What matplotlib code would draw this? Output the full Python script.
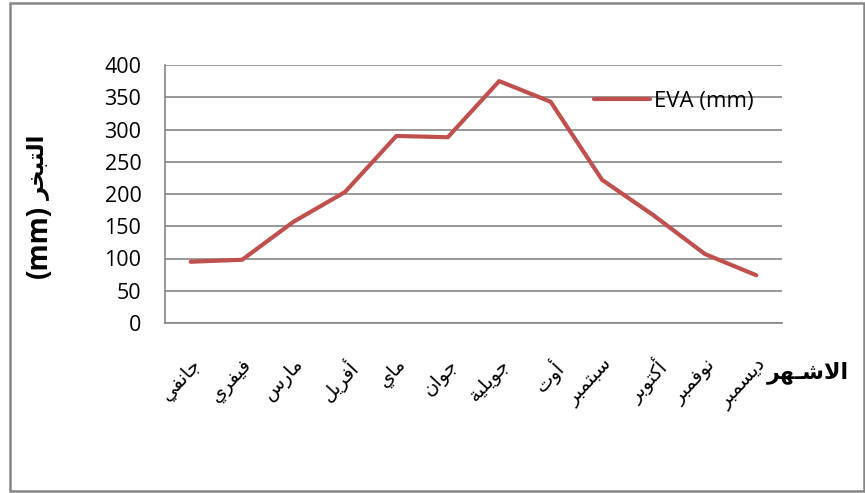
import matplotlib
matplotlib.use("Agg")
import matplotlib.pyplot as plt
from matplotlib.patches import Rectangle

# Monthly evaporation (mm)
months = ["جانفي", "فيفري", "مارس", "أفريل", "ماي", "جوان",
          "جويلية", "أوت", "سبتمبر", "أكتوبر", "نوفمبر", "ديسمبر"]
eva = [95, 98, 157, 203, 290, 288, 375, 343, 222, 167, 107, 74]
yticks = [0, 50, 100, 150, 200, 250, 300, 350, 400]
series_name = "EVA (mm)"
xlabel_ar = "الاشـهر"
ylabel_ar = "التبخر"

# Arabic presentation forms: isolated, final, initial, medial
FORMS = {
    "ا": ("\uFE8D", "\uFE8E", None, None),
    "أ": ("\uFE83", "\uFE84", None, None),
    "ب": ("\uFE8F", "\uFE90", "\uFE91", "\uFE92"),
    "ة": ("\uFE93", "\uFE94", None, None),
    "ت": ("\uFE95", "\uFE96", "\uFE97", "\uFE98"),
    "ج": ("\uFE9D", "\uFE9E", "\uFE9F", "\uFEA0"),
    "خ": ("\uFEA5", "\uFEA6", "\uFEA7", "\uFEA8"),
    "د": ("\uFEA9", "\uFEAA", None, None),
    "ر": ("\uFEAD", "\uFEAE", None, None),
    "س": ("\uFEB1", "\uFEB2", "\uFEB3", "\uFEB4"),
    "ش": ("\uFEB5", "\uFEB6", "\uFEB7", "\uFEB8"),
    "ف": ("\uFED1", "\uFED2", "\uFED3", "\uFED4"),
    "ك": ("\uFED9", "\uFEDA", "\uFEDB", "\uFEDC"),
    "ل": ("\uFEDD", "\uFEDE", "\uFEDF", "\uFEE0"),
    "م": ("\uFEE1", "\uFEE2", "\uFEE3", "\uFEE4"),
    "ن": ("\uFEE5", "\uFEE6", "\uFEE7", "\uFEE8"),
    "ه": ("\uFEE9", "\uFEEA", "\uFEEB", "\uFEEC"),
    "و": ("\uFEED", "\uFEEE", None, None),
    "ي": ("\uFEF1", "\uFEF2", "\uFEF3", "\uFEF4"),
}
LAM_ALEF = {"ا": ("\uFEFB", "\uFEFC"), "أ": ("\uFEF7", "\uFEF8")}
TATWEEL = "\u0640"


def joins_fwd(tok):
    if len(tok) == 2:
        return False
    return tok == TATWEEL or (tok in FORMS and FORMS[tok][2] is not None)


def joins_back(tok):
    return tok[0] == TATWEEL or tok[0] in FORMS


def shape(word):
    """Join Arabic letters and return them in visual (left-to-right) order."""
    tokens = []
    i = 0
    while i < len(word):
        if word[i] == "ل" and i + 1 < len(word) and word[i + 1] in LAM_ALEF:
            tokens.append(word[i:i + 2])
            i += 2
        else:
            tokens.append(word[i])
            i += 1
    out = []
    for k, tok in enumerate(tokens):
        a = k > 0 and joins_fwd(tokens[k - 1]) and joins_back(tok)
        b = k + 1 < len(tokens) and joins_fwd(tok) and joins_back(tokens[k + 1])
        if len(tok) == 2:
            iso, fin = LAM_ALEF[tok[1]]
            out.append(fin if a else iso)
        elif tok == TATWEEL:
            out.append(tok)
        elif tok in FORMS:
            iso, fin, ini, med = FORMS[tok]
            if a and b:
                out.append(med)
            elif a:
                out.append(fin)
            elif b:
                out.append(ini)
            else:
                out.append(iso)
        else:
            out.append(tok)
    return "".join(reversed(out))


plt.rcParams["font.family"] = ["Open Sans", "DejaVu Sans"]

W, H = 865, 493
fig = plt.figure(figsize=(W / 100, H / 100), dpi=100)
ax = fig.add_axes([165 / W, 1 - 323 / H, (782 - 165) / W, (323 - 65) / H])

x = list(range(len(months)))
line, = ax.plot(x, eva, color="#C0504D", lw=3.0, solid_capstyle="round",
                solid_joinstyle="round", label=series_name, zorder=3)

ax.set_xlim(-0.5, len(months) - 0.5)
ax.set_ylim(0, 400)
ax.set_yticks(yticks)
ax.tick_params(axis="y", length=0, labelsize=15.5, pad=17)
ax.tick_params(axis="x", length=0, pad=23)
ax.grid(axis="y", color="#868686", lw=1.2)
ax.set_axisbelow(True)
for side in ("top", "right"):
    ax.spines[side].set_visible(False)
for side in ("left", "bottom"):
    ax.spines[side].set_color("#868686")
    ax.spines[side].set_linewidth(1.2)

ax.set_xticks(x)
ax.set_xticklabels([shape(m) for m in months], rotation=47, ha="right",
                   va="top", rotation_mode="anchor", fontsize=14,
                   family="DejaVu Sans")

# axis titles
fig.text(849 / W, 1 - 373 / H, shape(xlabel_ar), ha="right", va="center",
         fontsize=16, fontweight="bold", family="DejaVu Sans")
fig.text(39 / W, 1 - 241 / H, "(mm)", rotation=90,
         ha="center", va="center", fontsize=20, fontweight="bold")
fig.text(38 / W, 1 - 167 / H, shape(ylabel_ar), rotation=90,
         ha="center", va="center", fontsize=16.5, fontweight="bold",
         family="DejaVu Sans")

fig.legend(handles=[line], loc="center left",
           bbox_to_anchor=(583 / W, 1 - 101 / H), frameon=False,
           fontsize=16, handlelength=2.5, handletextpad=0.2, borderpad=0)

# chart frame
fig.patches.append(Rectangle((10 / W, 1 - 491 / H), (864 - 10) / W,
                             (491 - 3) / H, transform=fig.transFigure,
                             fill=False, edgecolor="#868686", lw=1.8))

fig.savefig("out.png", dpi=100)
